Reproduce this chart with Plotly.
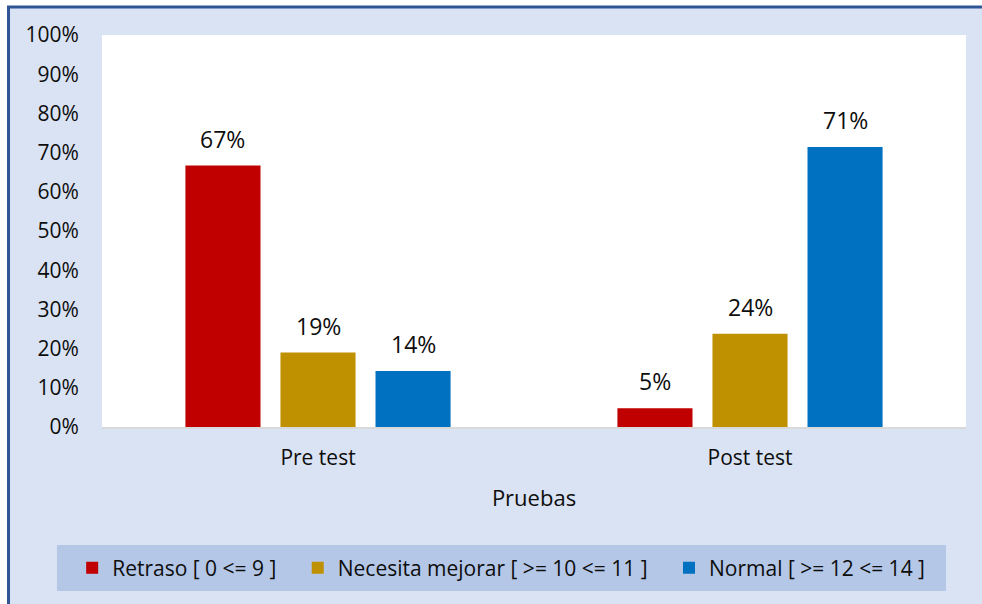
import plotly.graph_objects as go

categories = ["Pre test", "Post test"]
series_names = ["Retraso [ 0 <= 9 ]", "Necesita mejorar [ >= 10 <= 11 ]", "Normal [ >= 12 <= 14 ]"]
retraso = [66.7, 4.8]
necesita = [19.0, 23.8]
normal = [14.3, 71.4]
colors = ["#C00000", "#BF9000", "#0070C0"]
y_ticks = list(range(0, 101, 10))

series_values = [retraso, necesita, normal]

FONT = "Open Sans"
TXT = "#0d0d0d"
fig = go.Figure()
pad = "\u00a0" * 3
for k, (name, vals, col) in enumerate(zip(series_names, series_values, colors)):
    label = name + (pad if k < len(series_names) - 1 else "")
    fig.add_trace(go.Bar(x=categories, y=vals, name=label, marker=dict(color=col, line=dict(width=0))))

# data labels
slot_px = 95.5
annotations = []
for i, vals in enumerate(series_values):
    for cat, v in zip(categories, vals):
        annotations.append(dict(x=cat, y=v, xref="x", yref="y", text=f"{v:.0f}%",
                                showarrow=False, yanchor="bottom", xshift=(i - 1) * slot_px, yshift=9,
                                font=dict(family=FONT, size=23, color=TXT)))

shapes = [
    # chart area background with border (left and top edges visible)
    dict(type="rect", xref="paper", yref="paper", x0=-0.1082, x1=1.0336, y0=-0.4796, y1=1.0714,
         fillcolor="#DAE3F3", line=dict(color="#2F5597", width=3), layer="below"),
    # white plot area
    dict(type="rect", xref="paper", yref="paper", x0=0, x1=1, y0=0, y1=1,
         fillcolor="white", line=dict(width=0), layer="below"),
    # legend background box
    dict(type="rect", xref="paper", yref="paper", x0=-0.0521, x1=0.9769, y0=-0.4184, y1=-0.301,
         fillcolor="#B4C7E7", line=dict(width=0), layer="below"),
]

fig.update_layout(
    width=982, height=604,
    margin=dict(l=102, r=16, t=35, b=177),
    paper_bgcolor="white",
    plot_bgcolor="white",
    barmode="group",
    bargap=0.34,
    bargroupgap=0.21,
    font=dict(family=FONT, color=TXT),
    showlegend=True,
    legend=dict(orientation="h", x=0.462, y=-0.36, xanchor="center", yanchor="middle",
                bgcolor="rgba(0,0,0,0)", font=dict(family=FONT, size=21, color=TXT),
                traceorder="normal"),
    xaxis=dict(title=dict(text="Pruebas", font=dict(family=FONT, size=22, color=TXT), standoff=20),
               tickfont=dict(family=FONT, size=21, color=TXT),
               showline=True, linecolor="#D9D9D9", linewidth=2,
               ticks="outside", ticklen=11, tickcolor="rgba(0,0,0,0)",
               showgrid=False),
    yaxis=dict(range=[0, 100], tickvals=y_ticks, ticktext=[f"{t}%" for t in y_ticks],
               tickfont=dict(family=FONT, size=21, color=TXT),
               showgrid=False, zeroline=False, showline=False,
               ticks="outside", ticklen=18, tickcolor="rgba(0,0,0,0)"),
    annotations=annotations,
    shapes=shapes,
)

fig.write_html("out.html",
               config={"displayModeBar": False},
               post_script="document.body.style.margin='0';"
                           "document.documentElement.style.overflow='hidden';")
